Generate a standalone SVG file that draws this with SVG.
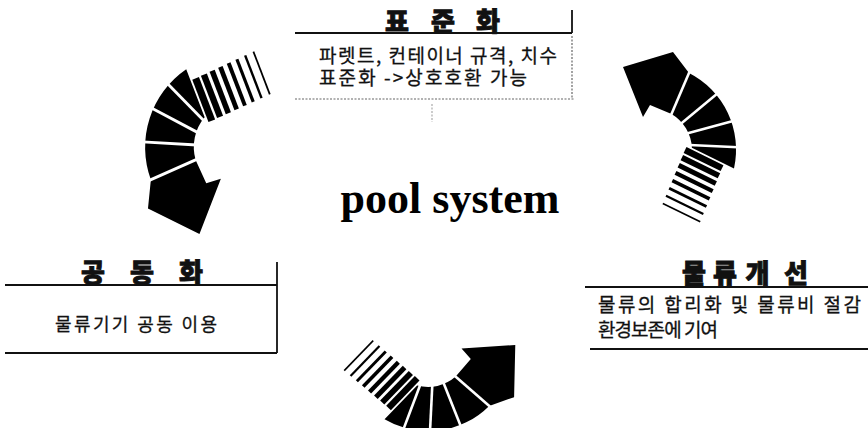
<svg xmlns="http://www.w3.org/2000/svg" width="868" height="428" viewBox="0 0 868 428">
<style>
.title{font-family:"Noto Sans CJK KR","Noto Sans",sans-serif;font-weight:900;font-size:26px;fill:#111;stroke:#111;stroke-width:0.9;text-anchor:middle}
.body{font-family:"Noto Sans CJK KR","Noto Sans",sans-serif;font-size:19px;fill:#111;stroke:#111;stroke-width:0.3}
.rule{stroke:#111;stroke-width:1.8;fill:none}
.dots{stroke:#666;stroke-width:1.2;stroke-dasharray:2 1.5;fill:none}
.sep line{stroke:#fff;stroke-width:2.6}
.stripes line{stroke:#000}
.main{font-family:"Liberation Serif","Times New Roman",serif;font-weight:bold;font-size:44px;fill:#000;text-anchor:middle}
</style>
<defs>
<g id="arrow">
<path fill="#000" d="M -27,-83 L 23,-98 L 39,-77 A 86 86 0 0 1 84,18.4 L 41.9,-2.2 A 42 42 0 0 0 21.5,-36.1 L 0,-45 L -7,-33 Z"/>
<g class="sep">
<line x1="40.7" y1="-81" x2="19.8" y2="-32"/>
<line x1="71" y1="-59.5" x2="30" y2="-25.5"/>
<line x1="83" y1="-29" x2="35" y2="-16"/>
<line x1="88" y1="-2.7" x2="34" y2="-5.2"/>
</g>
<g class="stripes">
<line x1="35.05" y1="0" x2="72.04" y2="18.09" stroke-width="6.5"/>
<line x1="31.87" y1="7.64" x2="68.93" y2="25.75" stroke-width="5.8"/>
<line x1="28.70" y1="15.28" x2="65.82" y2="33.43" stroke-width="5.0"/>
<line x1="25.51" y1="22.91" x2="62.70" y2="41.09" stroke-width="4.3"/>
<line x1="22.34" y1="30.55" x2="59.59" y2="48.76" stroke-width="3.6"/>
<line x1="19.16" y1="38.19" x2="56.47" y2="56.43" stroke-width="2.9"/>
<line x1="15.98" y1="45.83" x2="53.36" y2="64.10" stroke-width="2.2"/>
<line x1="12.81" y1="53.46" x2="50.25" y2="71.76" stroke-width="1.6"/>
</g>
</g>
</defs>
<rect width="868" height="428" fill="#fff"/>

<g id="connectors">
<use href="#arrow" transform="translate(240,147) rotate(-137) scale(1.1)"/>
<use href="#arrow" transform="translate(650,150)"/>
<use href="#arrow" transform="translate(428,345) rotate(108)"/>
</g>

<g id="node-standard">
<line class="rule" x1="295" y1="33" x2="572" y2="33"/>
<line class="rule" x1="572" y1="10" x2="572" y2="33"/>
<line class="dots" x1="572" y1="36" x2="572" y2="98"/>
<line class="dots" x1="295" y1="99" x2="575" y2="99"/>
<line class="dots" x1="432" y1="104" x2="432" y2="122" style="stroke:#aaa"/>
<text class="title" x="397" y="31">표</text>
<text class="title" x="443" y="31">준</text>
<text class="title" x="488" y="31">화</text>
<text class="body" x="319" y="63" textLength="238" lengthAdjust="spacing">파렛트, 컨테이너 규격, 치수</text>
<text class="body" x="319" y="85" textLength="208" lengthAdjust="spacing">표준화 -&gt;상호호환 가능</text>
</g>

<g id="node-common">
<line class="rule" x1="5" y1="285" x2="277" y2="285"/>
<line class="rule" x1="277" y1="262" x2="277" y2="353"/>
<line class="rule" x1="5" y1="353" x2="277" y2="353"/>
<text class="title" x="93" y="282">공</text>
<text class="title" x="142" y="282">동</text>
<text class="title" x="191" y="282">화</text>
<text class="body" x="55" y="331" textLength="162" lengthAdjust="spacing" style="font-size:18px">물류기기 공동 이용</text>
</g>

<g id="node-improve">
<line class="rule" x1="585" y1="287" x2="868" y2="287"/>
<line class="rule" x1="590" y1="349" x2="868" y2="349"/>
<text class="title" x="694" y="283">물</text>
<text class="title" x="725" y="283">류</text>
<text class="title" x="757.5" y="283">개</text>
<text class="title" x="796" y="283">선</text>
<text class="body" x="598" y="312" textLength="263" lengthAdjust="spacing">물류의 합리화 및 물류비 절감</text>
<text class="body" x="598" y="337" textLength="120" lengthAdjust="spacing">환경보존에 기여</text>
</g>

<g id="center-title">
<text class="main" x="450" y="213">pool system</text>
</g>
</svg>
